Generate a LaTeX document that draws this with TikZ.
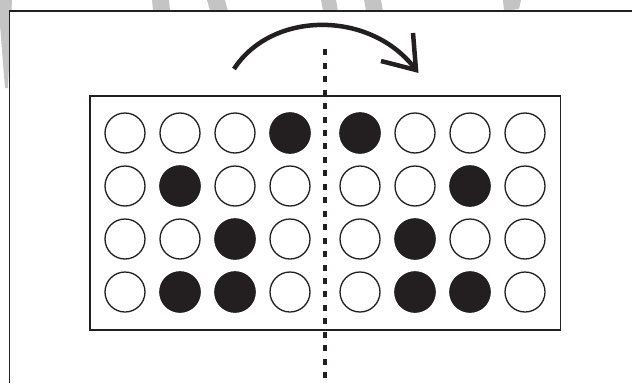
\documentclass[tikz,border=0pt]{standalone}
\definecolor{inkc}{RGB}{35,31,32}
\definecolor{wmgray}{RGB}{196,196,196}
\begin{document}
\begin{tikzpicture}[x=1pt,y=-1pt,
  hole/.style={circle,draw=inkc,line width=1.3pt,fill=white,minimum size=40pt,inner sep=0pt},
  dot/.style={hole,fill=inkc},
  wm/.style={fill=wmgray,draw=none},
  frameline/.style={draw=inkc,line width=1.5pt},
  foldline/.style={draw=inkc,line width=4pt,dash pattern=on 6pt off 7.45pt},
  turn/.style={draw=inkc,line width=4.5pt}]
\useasboundingbox (0,0) rectangle (632,383);
% watermark fragments
\fill[wm] (0,0) -- (12,0) -- (8,88) -- (5,88) -- (0,25) -- cycle;
\fill[wm] (152,0) -- (169,0) -- (170,11) -- (153,11) -- cycle;
\fill[wm] (207,0) -- (225,0) -- (228,11) -- (210,11) -- cycle;
\fill[wm] (321,0) -- (336,0) -- (338,11) -- (323,11) -- cycle;
\fill[wm] (364,0) -- (381,0) -- (383,11) -- (366,11) -- cycle;
\fill[wm] (503,0) -- (521,0) -- (519,9) -- (504,11) -- cycle;
% outer frame (white interior)
\fill[white] (9.5,11) rectangle (632,383);
\draw[frameline] (9.5,383) -- (9.5,11) -- (632,11);
% panel
\node[draw=inkc,line width=1.5pt,minimum width=470.5pt,minimum height=234pt,inner sep=0pt] (panel) at (325.25,213) {};
% circles
\foreach \r/\y in {1/133,2/186,3/239,4/292}
  \foreach \c/\x in {1/125,2/180,3/235,4/290,5/360,6/415,7/470,8/525}
    \node[hole] (c\r\c) at (\x,\y) {};
\foreach \r/\c in {1/4,1/5,2/2,2/7,3/3,3/6,4/2,4/3,4/6,4/7}
  \node[dot] (d\r\c) at (c\r\c) {};
% fold line
\coordinate (ftop) at (325,49.3);
\coordinate (fbot) at (325,386);
\draw[foldline] (ftop) -- (fbot);
% turning arrow
\coordinate (as) at (234,69);
\coordinate (ae) at (416,70);
\coordinate (hl) at (381,61);
\coordinate (hu) at (413,33);
\draw[turn] (as) .. controls (272,10) and (372,10) .. (ae);
\draw[turn,miter limit=10] (hl) -- (ae) -- (hu);
\end{tikzpicture}
\end{document}
